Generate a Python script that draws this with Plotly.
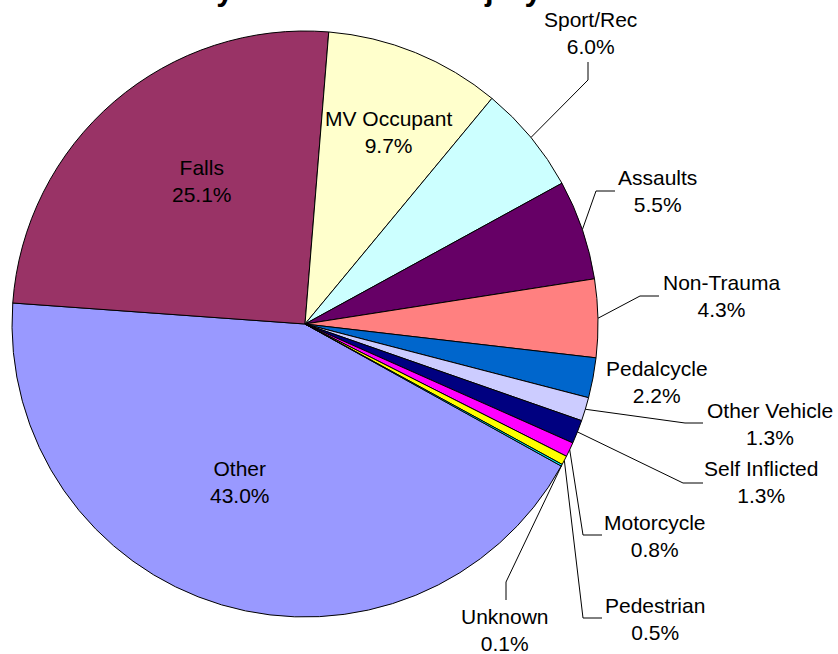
import math
import plotly.graph_objects as go

# ---- data ----
categories = ["Other", "Falls", "MV Occupant", "Sport/Rec", "Assaults", "Non-Trauma",
              "Pedalcycle", "Other Vehicle", "Self Inflicted", "Motorcycle",
              "Pedestrian", "Unknown"]
percents = [43.0, 25.1, 9.7, 6.0, 5.5, 4.3, 2.2, 1.3, 1.3, 0.8, 0.5, 0.1]
colors = ["#9999FF", "#993366", "#FFFFCC", "#CCFFFF", "#660066", "#FF8080",
          "#0066CC", "#CCCCFF", "#000080", "#FF00FF", "#FFFF00", "#00FFFF"]
title_text = "Patients by Mechanism of Injury"

# ---- layout constants (pixels) ----
W, H = 838, 654
CX, CY, R = 305, 324, 293
ROTATION = 119

def px(x):
    return x / W

def py(y):
    return 1 - y / H

# label block centres and leader-line elbows (pixels)
label_pos = {
    "Other": (240, 482), "Falls": (202, 181), "MV Occupant": (388, 132),
    "Sport/Rec": (590, 33), "Assaults": (657, 191), "Non-Trauma": (721, 296),
    "Pedalcycle": (657, 382), "Other Vehicle": (770, 424),
    "Self Inflicted": (761, 482), "Motorcycle": (655, 536),
    "Pedestrian": (655, 619), "Unknown": (505, 630),
}
leaders = {
    "Sport/Rec": [(588, 80), (588, 62)],
    "Assaults": [(596, 191), (615, 191)],
    "Non-Trauma": [(640, 296), (659, 296)],
    "Other Vehicle": [(685, 423), (703, 423)],
    "Self Inflicted": [(683, 483), (703, 483)],
    "Motorcycle": [(583, 535), (602, 535)],
    "Pedestrian": [(583, 618), (602, 618)],
    "Unknown": [(506, 582), (506, 600)],
}

fig = go.Figure(go.Pie(
    labels=categories, values=percents, sort=False, direction="clockwise",
    rotation=ROTATION,
    marker=dict(colors=colors, line=dict(color="black", width=1)),
    textinfo="none", hoverinfo="label+value",
    domain=dict(x=[px(CX - R), px(CX + R)], y=[py(CY + R), py(CY - R)]),
    showlegend=False,
))

total = sum(percents)
cum = 0.0
shapes = []
annotations = []
for name, val in zip(categories, percents):
    mid = ROTATION + (cum + val / 2) / total * 360
    cum += val
    lx, ly = label_pos[name]
    annotations.append(dict(
        x=px(lx), y=py(ly), xref="paper", yref="paper",
        text=f"{name}<br>{val:.1f}%", showarrow=False,
        xanchor="center", yanchor="middle", align="center",
        font=dict(family="Liberation Sans, Arial", size=21, color="black"),
    ))
    if name in leaders:
        a = math.radians(mid)
        sx = CX + R * math.sin(a)
        sy = CY - R * math.cos(a)
        pts = [(sx, sy)] + leaders[name]
        path = "M " + " L ".join(f"{px(x)},{py(y)}" for x, y in pts)
        shapes.append(dict(type="path", path=path, xref="paper", yref="paper",
                           line=dict(color="black", width=1)))

fig.update_layout(
    width=W, height=H,
    margin=dict(l=0, r=0, t=0, b=0),
    paper_bgcolor="white", plot_bgcolor="white",
    title=dict(text=f"<b>{title_text}</b>", x=px(CX), xanchor="center",
               xref="container", yref="container", y=1.0, yanchor="bottom",
               font=dict(family="Liberation Sans, Arial", size=31, color="black")),
    shapes=shapes, annotations=annotations,
)

fig.write_html("out.html", config={"displayModeBar": False},
               post_script="document.body.style.margin='0';document.body.style.overflow='hidden';")
